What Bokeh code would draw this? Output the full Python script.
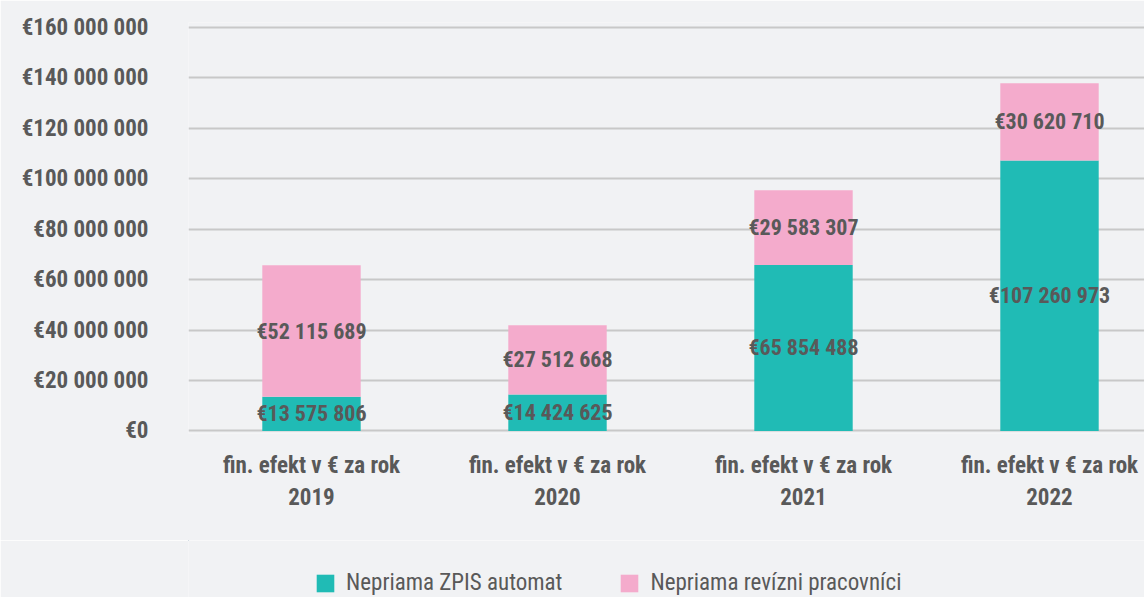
from bokeh.plotting import figure
from bokeh.layouts import column
from bokeh.models import Range1d, FixedTicker, Legend, LegendItem, ColumnDataSource
from bokeh.core.properties import value
from bokeh.embed import file_html
from bokeh.resources import INLINE

years = ["2019", "2020", "2021", "2022"]
category_prefix = "fin. efekt v € za rok"
zpis = [13575806, 14424625, 65854488, 107260973]
revizni = [52115689, 27512668, 29583307, 30620710]
series_names = ["Nepriama ZPIS automat", "Nepriama revízni pracovníci"]
y_ticks = [0, 20e6, 40e6, 60e6, 80e6, 100e6, 120e6, 140e6, 160e6]

TEAL = "#20bbb5"
PINK = "#f4abcc"
BG = "#f1f2f4"
TXT = "#595959"
GRID = "#c8c8c8"
FONT = "Roboto Condensed"


def fmt(v):
    s = f"{int(v):,}".replace(",", " ")
    return "€" + s


xs = [i + 0.5 for i in range(len(years))]
src = ColumnDataSource(dict(
    x=xs,
    zpis=zpis,
    rev=revizni,
    top=[a + b for a, b in zip(zpis, revizni)],
    zmid=[a / 2 for a in zpis],
    rmid=[a + b / 2 for a, b in zip(zpis, revizni)],
    zlab=[fmt(v) for v in zpis],
    rlab=[fmt(v) for v in revizni],
))

p = figure(width=1144, height=540, output_backend="svg",
           toolbar_location=None, x_range=Range1d(0, 956 / 246),
           y_range=Range1d(-1e6, 162e6), min_border_left=188,
           min_border_top=22, min_border_right=0, min_border_bottom=107,
           background_fill_color=BG, border_fill_color=BG)
p.outline_line_color = None

r1 = p.vbar(x="x", width=0.4, bottom=0, top="zpis", source=src,
            fill_color=TEAL, line_color=None)
r2 = p.vbar(x="x", width=0.4, bottom="zpis", top="top", source=src,
            fill_color=PINK, line_color=None)

for ycol, tcol in (("zmid", "zlab"), ("rmid", "rlab")):
    p.text(x="x", y=ycol, text=tcol, source=src, text_align="center",
           text_baseline="middle", text_font=value(FONT),
           text_font_style="bold", text_font_size="22px", text_color=TXT)

p.grid.grid_line_color = None
p.ygrid.grid_line_color = GRID
p.ygrid.grid_line_width = 2
p.ygrid.ticker = FixedTicker(ticks=y_ticks)

p.yaxis.ticker = FixedTicker(ticks=y_ticks)
p.yaxis.major_label_overrides = {int(t): fmt(t) for t in y_ticks}
p.yaxis.axis_line_color = None
p.yaxis.major_tick_line_color = None
p.yaxis.minor_tick_line_color = None
p.yaxis.major_label_standoff = 34
p.yaxis.major_label_text_font = FONT
p.yaxis.major_label_text_font_style = "bold"
p.yaxis.major_label_text_font_size = "23px"
p.yaxis.major_label_text_color = TXT

p.xaxis.ticker = FixedTicker(ticks=xs)
p.xaxis.major_label_overrides = {x: f"{category_prefix}\n{y}" for x, y in zip(xs, years)}
p.xaxis.axis_line_color = None
p.xaxis.major_tick_line_color = None
p.xaxis.minor_tick_line_color = None
p.xaxis.major_label_standoff = 12
p.xaxis.major_label_text_font = FONT
p.xaxis.major_label_text_font_style = "bold"
p.xaxis.major_label_text_font_size = "23px"
p.xaxis.major_label_text_color = TXT
p.xaxis.major_label_text_line_height = 1.22

# legend strip below the chart; proxy bars lie entirely outside its view
p2 = figure(width=1144, height=57, output_backend="svg", toolbar_location=None,
            x_range=Range1d(100, 101), y_range=Range1d(-2, -1),
            x_axis_type=None, y_axis_type=None,
            min_border_left=0, min_border_right=0, min_border_top=0,
            min_border_bottom=0, background_fill_color=BG, border_fill_color=BG)
p2.outline_line_color = None
l1 = p2.vbar(x="x", width=0.4, bottom=0, top="zpis", source=src,
             fill_color=TEAL, line_color=None)
l2 = p2.vbar(x="x", width=0.4, bottom="zpis", top="top", source=src,
             fill_color=PINK, line_color=None)

legend = Legend(items=[LegendItem(label=series_names[0], renderers=[l1]),
                       LegendItem(label=series_names[1], renderers=[l2])],
                orientation="horizontal", location=(126, 1),
                background_fill_alpha=0, border_line_color=None,
                label_text_font=FONT, label_text_font_size="23px",
                label_text_color=TXT, glyph_width=22, glyph_height=22,
                spacing=56, padding=0, margin=0, label_standoff=10)
p2.add_layout(legend)

layout = column(p, p2, spacing=0)
open("out.html", "w").write(file_html(layout, INLINE))
